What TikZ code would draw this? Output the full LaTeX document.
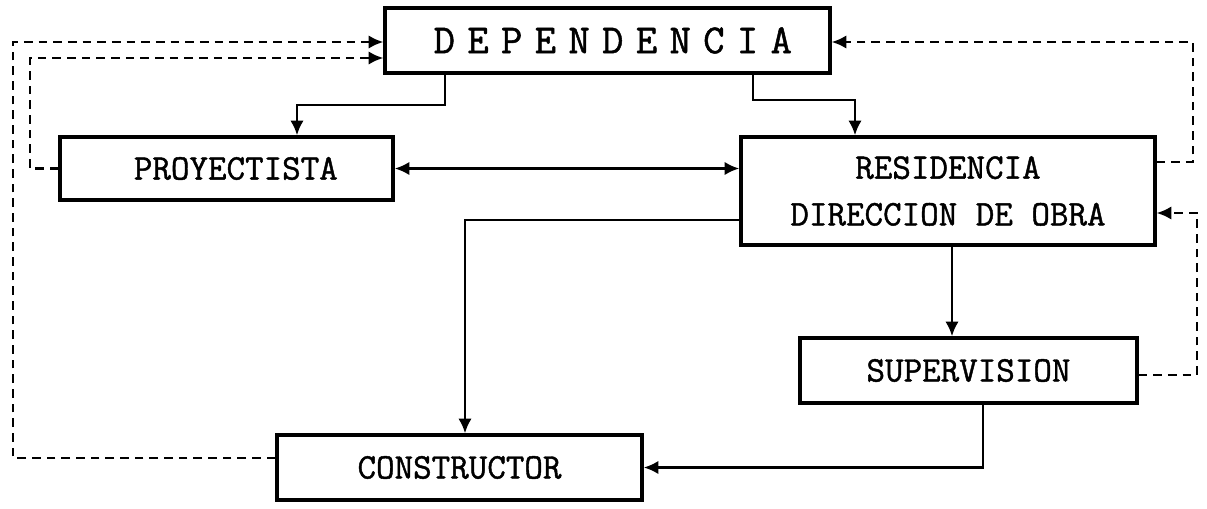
\documentclass[tikz,border=0pt]{standalone}
\usepackage{fontspec}
\setmonofont[FakeBold=1.2]{Latin Modern Mono}
\usetikzlibrary{arrows.meta}
\begin{document}
\begin{tikzpicture}[x=0.75pt,y=-0.75pt,
  box/.style={draw,line width=2.4pt,rectangle,inner sep=0pt,font=\ttfamily\fontsize{27}{35}\selectfont,align=center},
  tip/.tip={Latex[length=11pt,width=10pt]},
  arr/.style={line width=2.2pt,-tip},
  dbl/.style={line width=2.2pt,tip-tip},
  darr/.style={line width=2pt,dash pattern=on 6.5pt off 4.5pt,-tip}]
\useasboundingbox (0,0) rectangle (1207,508);
\node[box,minimum width=333.75pt,minimum height=48.75pt] (dep) at (607.5,40.5) {\fontsize{31}{35}\selectfont\addfontfeature{LetterSpace=30}DEPENDENCIA\hspace*{-8pt}};
\node[box,minimum width=249.75pt,minimum height=47.25pt] (proy) at (226.5,168.5) {\hspace*{14pt}PROYECTISTA};
\node[box,minimum width=310.5pt,minimum height=81pt] (res) at (948,191) {RESIDENCIA\\DIRECCION DE OBRA};
\node[box,minimum width=252.75pt,minimum height=48.75pt] (sup) at (968.5,370.5) {SUPERVISION};
\node[box,minimum width=273.75pt,minimum height=48.75pt] (con) at (459.5,467.5) {CONSTRUCTOR};
\draw[arr] (445,0 |- dep.south) |- (297,105) -- (297,0 |- proy.north);
\draw[arr] (753,0 |- dep.south) |- (855,100) -- (855,0 |- res.north);
\draw[dbl] (proy.east) -- (proy.east -| res.west);
\draw[arr] (res.west |- 0,220) -| (465,0 |- con.north);
\draw[arr] (952,0 |- res.south) -- (952,0 |- sup.north);
\draw[arr] (983,0 |- sup.south) |- (con.east);
\draw[darr] (proy.west) -| (30,58) -- (dep.west |- 0,58);
\draw[darr] (con.west |- 0,458) -| (13,42) -- (dep.west |- 0,42);
\draw[darr] (res.east |- 0,162) -| (1193,42) -- (dep.east |- 0,42);
\draw[darr] (sup.east |- 0,375) -| (1197,213) -- (res.east |- 0,213);
\end{tikzpicture}
\end{document}
